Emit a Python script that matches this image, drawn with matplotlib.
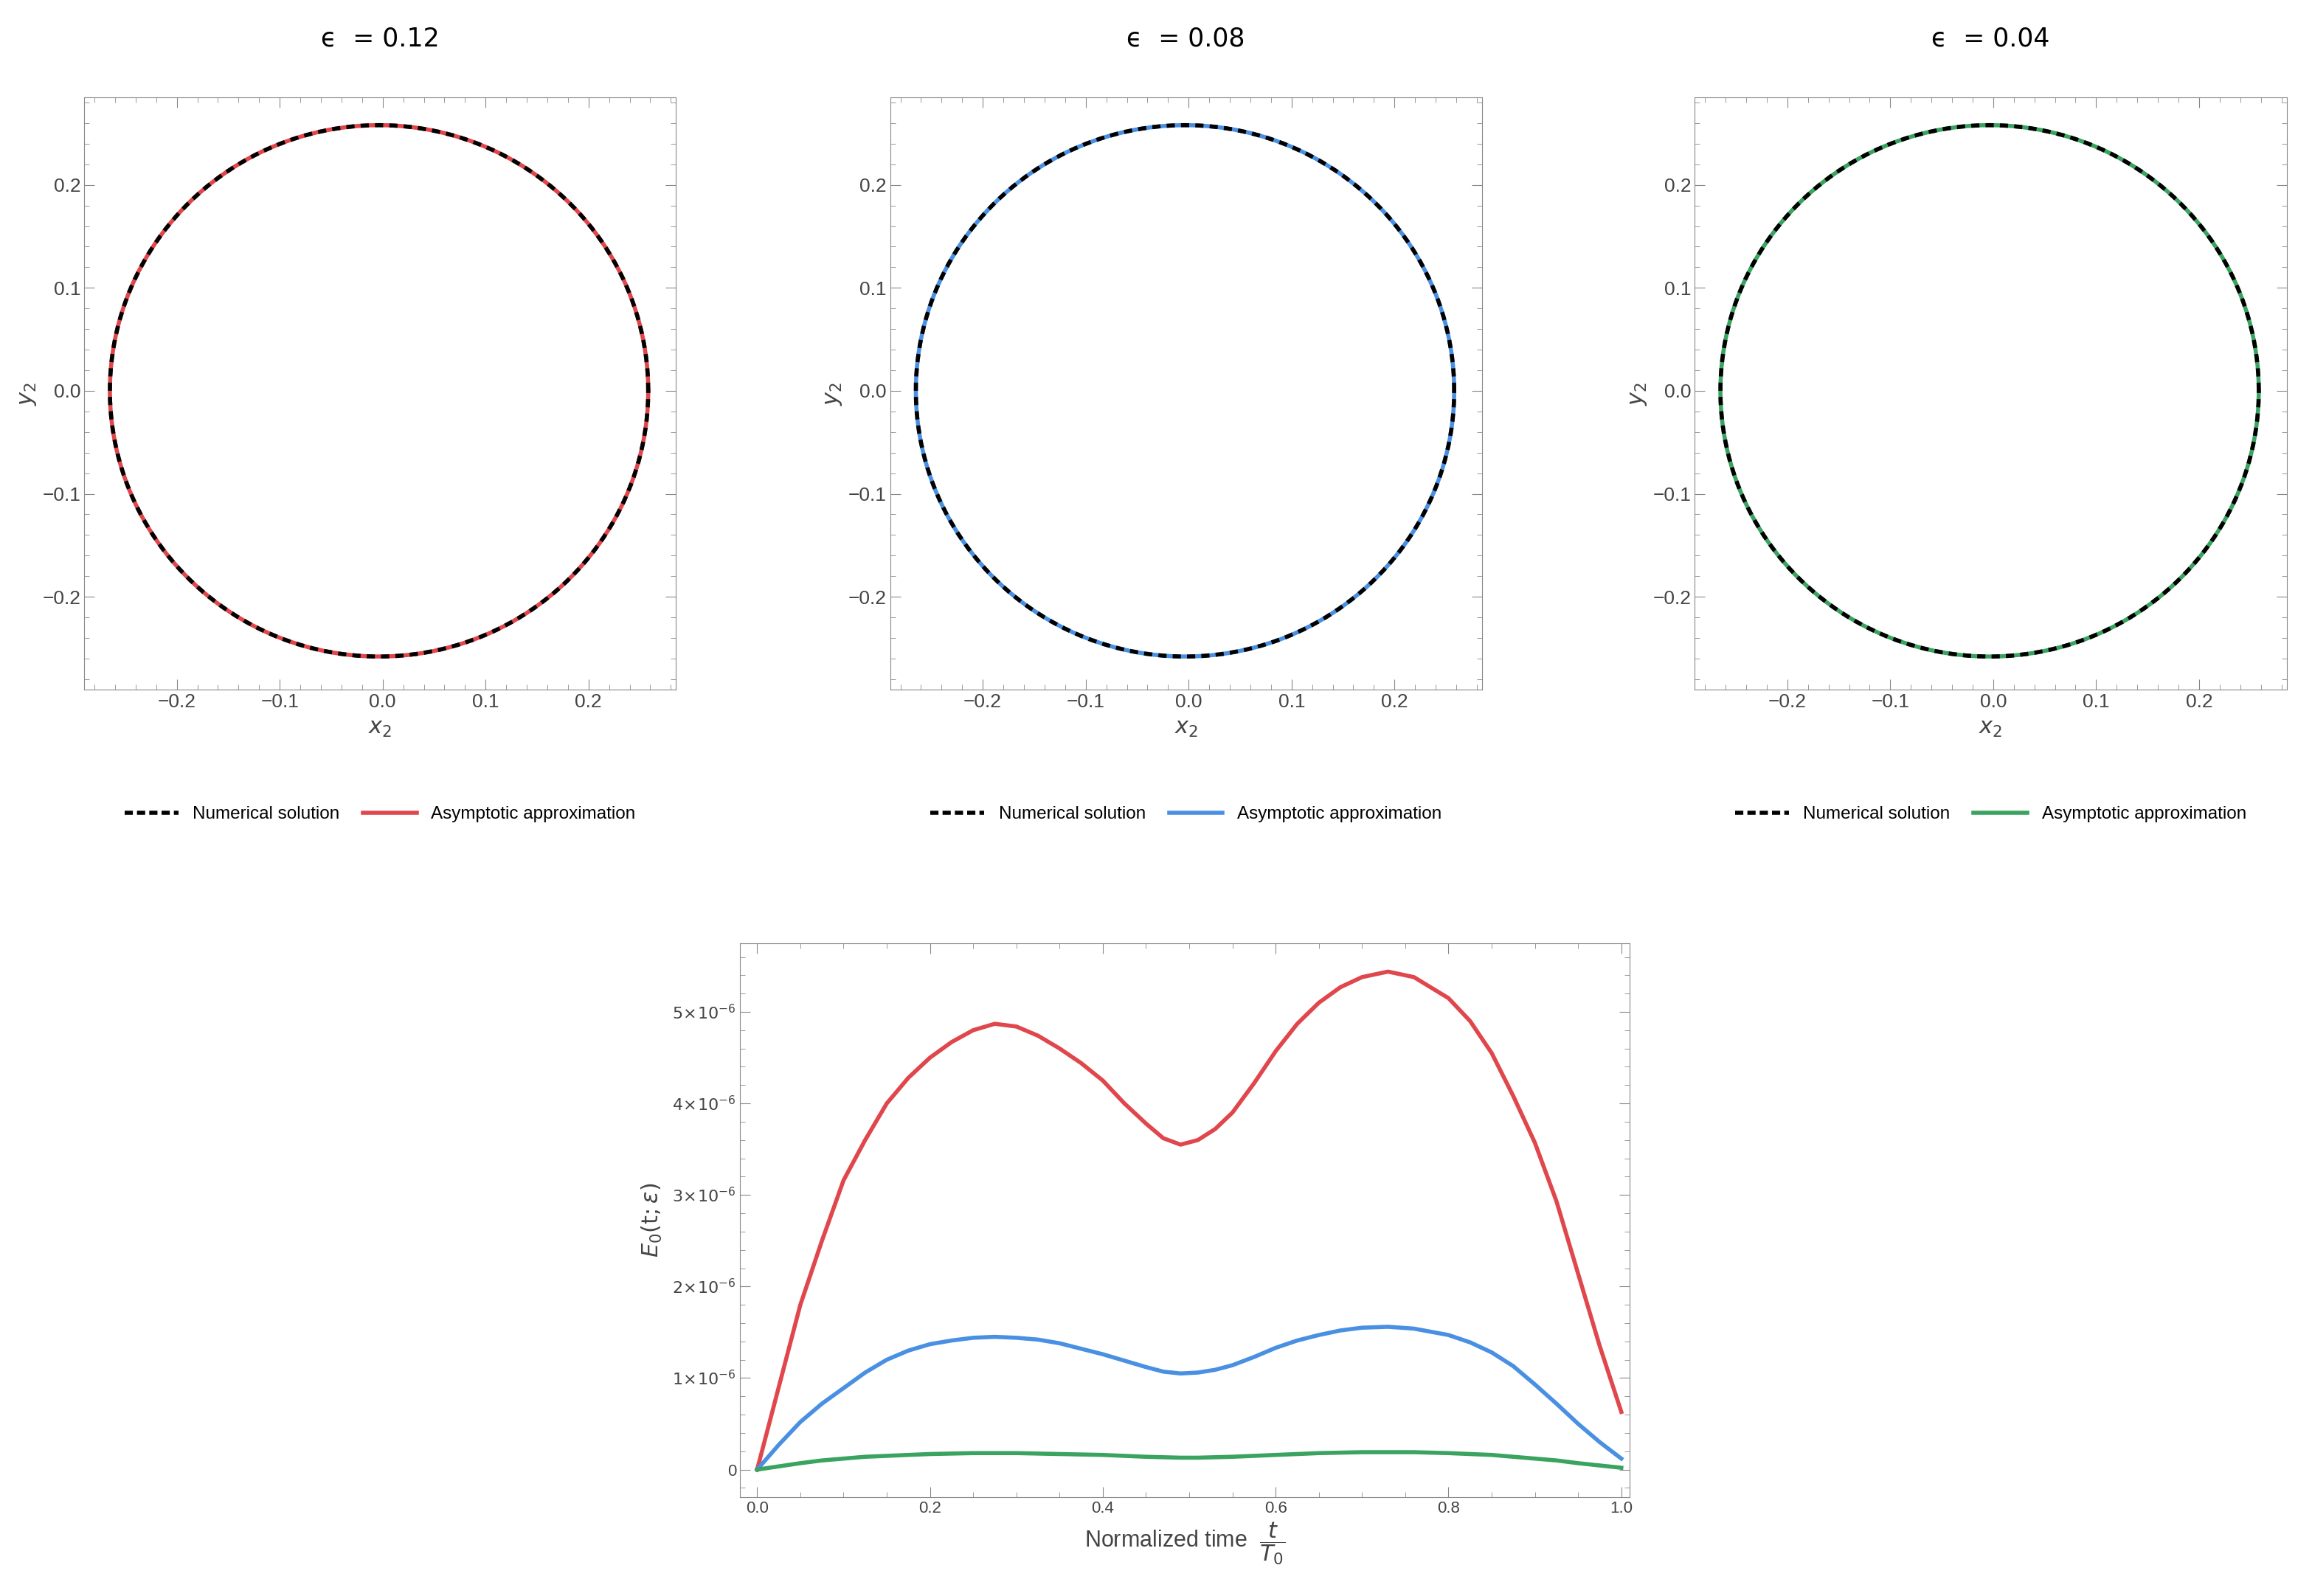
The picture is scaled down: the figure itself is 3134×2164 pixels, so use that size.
import numpy as np
import matplotlib
matplotlib.use('Agg')
import matplotlib.pyplot as plt
from matplotlib.lines import Line2D
from matplotlib.ticker import FixedLocator, AutoMinorLocator

plt.rcParams['font.family'] = ['Liberation Sans', 'DejaVu Sans']
plt.rcParams['mathtext.fontset'] = 'dejavusans'

# orbit panels
eps_labels = ['0.12', '0.08', '0.04']
orbit_colors = ['#e0474c', '#4a90e2', '#3aa35f']
orbit_center_x = -0.0035
orbit_ax_x = 0.2615
orbit_ax_y = 0.258

# error curves E0(t; eps), in units of 1e-6
t_vals = [0.0, 0.025, 0.05, 0.075, 0.1, 0.125, 0.15, 0.175, 0.2, 0.225, 0.25, 0.275,
          0.3, 0.325, 0.35, 0.375, 0.4, 0.425, 0.45, 0.47, 0.49, 0.51, 0.53, 0.55,
          0.575, 0.6, 0.625, 0.65, 0.675, 0.7, 0.73, 0.76, 0.8, 0.825, 0.85, 0.875,
          0.9, 0.925, 0.95, 0.975, 1.0]
err_012 = [0.0, 0.9, 1.8, 2.5, 3.16, 3.6, 4.0, 4.28, 4.5, 4.67, 4.8, 4.87,
           4.84, 4.74, 4.6, 4.44, 4.25, 4.0, 3.78, 3.62, 3.55, 3.6, 3.72, 3.9,
           4.22, 4.57, 4.87, 5.1, 5.27, 5.38, 5.44, 5.38, 5.15, 4.9, 4.55, 4.08,
           3.57, 2.93, 2.14, 1.35, 0.63]
err_008 = [0.0, 0.27, 0.52, 0.72, 0.89, 1.06, 1.2, 1.3, 1.37, 1.41, 1.44, 1.45,
           1.44, 1.42, 1.38, 1.32, 1.26, 1.19, 1.12, 1.07, 1.05, 1.06, 1.09, 1.14,
           1.23, 1.33, 1.41, 1.47, 1.52, 1.55, 1.56, 1.54, 1.47, 1.39, 1.28, 1.13,
           0.93, 0.72, 0.5, 0.3, 0.12]
err_004 = [0.0, 0.035, 0.07, 0.1, 0.12, 0.14, 0.15, 0.16, 0.17, 0.175, 0.18, 0.18,
           0.18, 0.175, 0.17, 0.165, 0.16, 0.15, 0.14, 0.135, 0.13, 0.13, 0.135, 0.14,
           0.15, 0.16, 0.17, 0.18, 0.185, 0.19, 0.19, 0.19, 0.18, 0.17, 0.16, 0.14,
           0.12, 0.1, 0.07, 0.045, 0.02]

frame_col = '#888888'
tick_col = '#444444'


def style(ax, fs=15):
    for s in ax.spines.values():
        s.set_color(frame_col)
    ax.tick_params(which='both', direction='in', top=True, right=True,
                   color=frame_col, labelcolor=tick_col, labelsize=fs)
    ax.tick_params(which='major', length=10)
    ax.tick_params(which='minor', length=5)


def fmt(v, p):
    return f'{v:.1f}'.replace('-', '\u2212')


fig = plt.figure(figsize=(31.34, 21.64), dpi=100)
lefts = [0.0364, 0.385, 0.733]
theta = np.linspace(0, 2 * np.pi, 400)
for i in range(3):
    ax = fig.add_axes([lefts[i], 0.568, 0.256, 0.371])
    x = orbit_center_x + orbit_ax_x * np.cos(theta)
    y = orbit_ax_y * np.sin(theta)
    ax.plot(x, y, color=orbit_colors[i], lw=4)
    ax.plot(x, y, color='black', lw=4, ls=(0, (2, 1.5)))
    ax.set_xlim(-0.29, 0.285)
    ax.set_ylim(-0.29, 0.285)
    ax.xaxis.set_major_locator(FixedLocator([-0.2, -0.1, 0.0, 0.1, 0.2]))
    ax.yaxis.set_major_locator(FixedLocator([-0.2, -0.1, 0.0, 0.1, 0.2]))
    ax.xaxis.set_minor_locator(AutoMinorLocator(5))
    ax.yaxis.set_minor_locator(AutoMinorLocator(5))
    ax.xaxis.set_major_formatter(plt.FuncFormatter(fmt))
    ax.yaxis.set_major_formatter(plt.FuncFormatter(fmt))
    style(ax, 19)
    ax.set_xlabel('$x_2$', fontsize=22, color=tick_col, labelpad=6)
    ax.set_ylabel('$y_2$', fontsize=22, color=tick_col, labelpad=4)
    ax.set_title('\u03f5  = ' + eps_labels[i], fontsize=25, pad=50,
                 family=['DejaVu Sans'])
    handles = [Line2D([], [], color='black', lw=4, ls=(0, (2, 1))),
               Line2D([], [], color=orbit_colors[i], lw=4)]
    ax.legend(handles, ['Numerical solution', 'Asymptotic approximation'],
              loc='upper center', bbox_to_anchor=(0.5, -0.17), ncol=2,
              frameon=False, fontsize=17.5, handlelength=3, columnspacing=1.3)

ax = fig.add_axes([0.320, 0.062, 0.385, 0.347])
t = np.array(t_vals)
ax.plot(t, np.array(err_012) * 1e-6, color=orbit_colors[0], lw=4)
ax.plot(t, np.array(err_008) * 1e-6, color=orbit_colors[1], lw=4)
ax.plot(t, np.array(err_004) * 1e-6, color=orbit_colors[2], lw=4)
ax.set_xlim(-0.02, 1.01)
ax.set_ylim(-0.3e-6, 5.75e-6)
ax.xaxis.set_major_locator(FixedLocator([0, 0.2, 0.4, 0.6, 0.8, 1.0]))
ax.xaxis.set_minor_locator(AutoMinorLocator(4))
ax.yaxis.set_major_locator(FixedLocator([0, 1e-6, 2e-6, 3e-6, 4e-6, 5e-6]))
ax.yaxis.set_minor_locator(AutoMinorLocator(5))
ax.xaxis.set_major_formatter(plt.FuncFormatter(lambda v, p: f'{v:.1f}'))
ax.yaxis.set_major_formatter(plt.FuncFormatter(
    lambda v, p: '0' if abs(v) < 1e-12 else r'$%d\!\times\!10^{-6}$' % round(v * 1e6)))
style(ax, 16)
ax.set_xlabel(r'Normalized time  $\dfrac{t}{T_0}$', fontsize=22, color=tick_col, labelpad=4)
ax.set_ylabel(r'$E_0(\mathrm{t};\epsilon)$', fontsize=22, color=tick_col, labelpad=8)

fig.savefig('out.png', dpi=100)
